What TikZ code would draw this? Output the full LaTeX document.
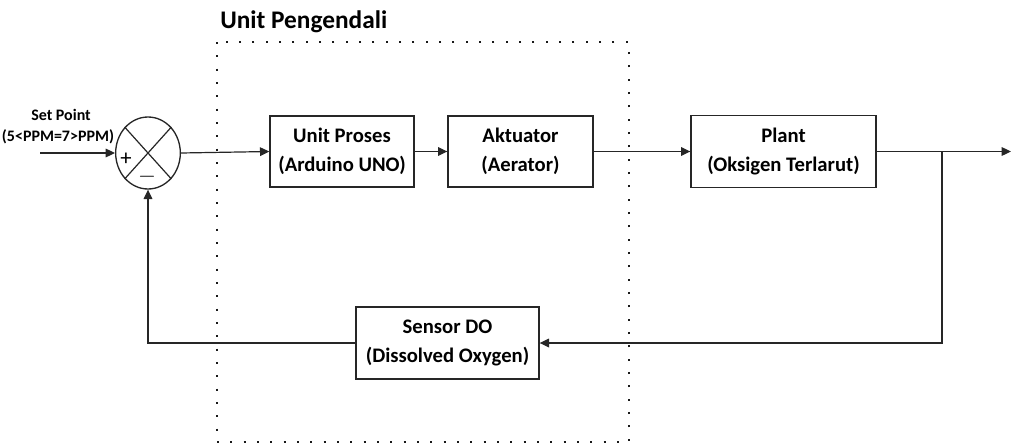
\documentclass[tikz,border=0pt]{standalone}
\usepackage{fontspec}
\setmainfont{Carlito}
\usetikzlibrary{arrows.meta,shapes.geometric}

\tikzset{
  blk/.style={draw=black!85, line width=1pt, rectangle, align=center,
    inner sep=0pt, font=\bfseries\fontsize{15.5}{21.5}\selectfont},
  sumnode/.style={draw=black!85, line width=1pt, ellipse, inner sep=0pt,
    minimum width=48.5pt, minimum height=54pt},
  conn/.style={draw=black!85, line width=0.9pt},
  arr/.style={conn, -{Triangle[length=7pt,width=6.5pt]}},
  ctrlbox/.style={draw=black!90, line width=1.5pt, dash pattern=on 1.5pt off 8.5pt},
  lbl/.style={inner sep=0pt, anchor=base, font=\bfseries\fontsize{19}{22}\selectfont},
  splbl/.style={inner sep=0pt, anchor=base, font=\bfseries\fontsize{12}{14}\selectfont},
  sign/.style={inner sep=0pt, font=\fontsize{17}{17}\selectfont},
}

\begin{document}
\begin{tikzpicture}[x=0.75pt, y=-0.75pt]
\useasboundingbox (0,0) rectangle (1011,446);

% control unit boundary
\draw[ctrlbox] (217,42) rectangle (629,442);
\node[lbl, anchor=base west] (title) at (220,28) {Unit Pengendali};

% summing junction
\node[sumnode] (s) at (148,153) {};
\draw[conn] (s.north west) -- (s.south east);
\draw[conn] (s.north east) -- (s.south west);
\node[sign] (plus) at (126,159) {+};
\node[sign] (minus) at (147,177) {$-$};

% set point input
\node[splbl] (sp1) at (61,120) {Set Point};
\node[splbl] (sp2) at (58,141) {(5<PPM=7>PPM)};
\coordinate (in) at (40,153);

% blocks
\node[blk, minimum width=108pt, minimum height=53.25pt] (up) at (342,151.5) {Unit Proses\\(Arduino UNO)};
\node[blk, minimum width=108.75pt, minimum height=53.25pt] (akt) at (520.5,151.5) {Aktuator\\(Aerator)};
\node[blk, minimum width=138.75pt, minimum height=54pt] (plant) at (783.5,151.5) {Plant\\(Oksigen Terlarut)};
\node[blk, minimum width=137.25pt, minimum height=54pt] (sens) at (447.5,343) {Sensor DO\\(Dissolved Oxygen)};

% forward path
\draw[arr] (in) -- (s.west);
\draw[arr] (s.east) -- (up.west);
\draw[arr] (up.east) -- (akt.west);
\draw[arr] (akt.east) -- (plant.west);
\coordinate (br) at (942,151.5);
\coordinate (out) at (1011,151.5);
\draw[arr] (plant.east) -- (out);

% feedback path
\draw[arr] (br) |- (sens.east);
\draw[arr] (sens.west) -| (s.south);
\end{tikzpicture}
\end{document}
